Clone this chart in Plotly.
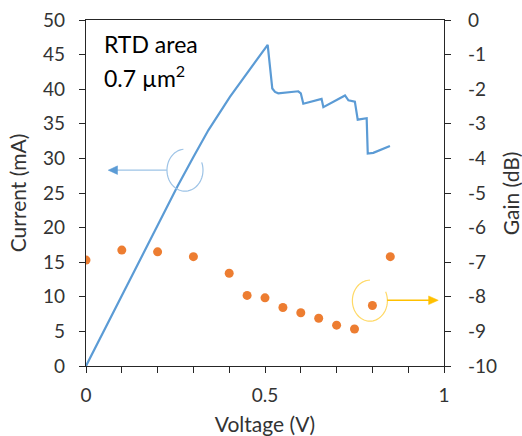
import numpy as np
import plotly.graph_objects as go

# Current (line) data
voltage_iv = [0.0, 0.05, 0.1, 0.179, 0.256, 0.3, 0.342, 0.402, 0.44, 0.472, 0.5075,
              0.5204, 0.528, 0.537, 0.593, 0.600, 0.607, 0.658, 0.663, 0.7235,
              0.733, 0.751, 0.759, 0.784, 0.787, 0.8025, 0.849]
current_ma = [0.0, 5.1, 10.2, 18.2, 26.0, 30.2, 34.1, 38.9, 41.6, 43.7, 46.4,
              40.1, 39.6, 39.4, 39.7, 39.4, 37.9, 38.6, 37.4, 39.1,
              38.4, 38.2, 35.6, 35.8, 30.7, 30.8, 31.8]

# Gain (scatter) data
voltage_gain = [0.0, 0.1, 0.2, 0.3, 0.4, 0.45, 0.5, 0.55, 0.6, 0.65, 0.7, 0.75, 0.8, 0.85]
gain_db = [-6.94, -6.65, -6.70, -6.84, -7.32, -7.96, -8.03, -8.31, -8.46, -8.62, -8.82, -8.93, -8.25, -6.84]

x_tickvals = [0, 0.5, 1.0]
x_ticktext = ["0", "0.5", "1"]
x_minor_tickvals = [0.1, 0.2, 0.3, 0.4, 0.6, 0.7, 0.8, 0.9]
y2_tickvals = [0, -1, -2, -3, -4, -5, -6, -7, -8, -9, -10]
y2_ticktext = ["0", "-1", "-2", "-3", "-4", "-5", "-6", "-7", "-8", "-9", "-10"]

FONT = "Lato, 'Open Sans', sans-serif"
TXT = "#333333"
BLUE_LIGHT = "#9DC3E6"
GOLD = "#FFC000"

fig = go.Figure()
fig.add_trace(go.Scatter(x=voltage_iv, y=current_ma, mode="lines",
                         line=dict(color="#5B9BD5", width=2.2), showlegend=False))
fig.add_trace(go.Scatter(x=voltage_gain, y=gain_db, mode="markers", yaxis="y2",
                         marker=dict(color="#ED7D31", size=9), showlegend=False))


def arc_path(cx, cy, rx, ry, a0, a1, n=60):
    t = np.radians(np.linspace(a0, a1, n))
    xs = cx + rx * np.cos(t)
    ys = cy + ry * np.sin(t)
    return "M " + " L ".join(f"{a:.5f},{b:.5f}" for a, b in zip(xs, ys))


def tri_path(tip_x, tip_y, base_x, half_h):
    return (f"M {tip_x},{tip_y} L {base_x},{tip_y + half_h} "
            f"L {base_x},{tip_y - half_h} Z")


# left (current) indicator: ellipse + arrow pointing to left axis
fig.add_shape(type="path", xref="x", yref="y",
              path=arc_path(0.2765, 28.3, 0.0503, 3.03, 95, 382),
              line=dict(color=BLUE_LIGHT, width=1.2))
fig.add_shape(type="line", xref="x", yref="y", x0=0.226, y0=28.3, x1=0.08, y1=28.3,
              line=dict(color=BLUE_LIGHT, width=1.3))
fig.add_shape(type="path", xref="x", yref="y", path=tri_path(0.062, 28.3, 0.088, 0.62),
              fillcolor="#5B9BD5", line=dict(color="#5B9BD5", width=0.5))

# right (gain) indicator: ellipse + arrow pointing to right axis
fig.add_shape(type="path", xref="x", yref="y",
              path=arc_path(0.793, 9.44, 0.0489, 2.96, 90, 386),
              line=dict(color="#FFD966", width=1.2))
fig.add_shape(type="line", xref="x", yref="y2", x0=0.8416, y0=-8.1, x1=0.965, y1=-8.1,
              line=dict(color=GOLD, width=1.3))
fig.add_shape(type="path", xref="x", yref="y2", path=tri_path(0.984, -8.1, 0.957, 0.125),
              fillcolor=GOLD, line=dict(color=GOLD, width=0.5))

fig.add_annotation(x=0.045, y=46.5, xref="x", yref="y", xanchor="left", yanchor="middle",
                   text="RTD area", showarrow=False, font=dict(size=23, color="#000", family=FONT))
fig.add_annotation(x=0.045, y=41.8, xref="x", yref="y", xanchor="left", yanchor="middle",
                   text="0.7 µm<sup>2</sup>", showarrow=False, font=dict(size=23, color="#000", family=FONT))

# right-axis title placed as a rotated label beside the tick labels
fig.add_annotation(x=1.185, y=0.5, xref="paper", yref="paper", xanchor="center", yanchor="middle",
                   text="Gain (dB)", textangle=-90, showarrow=False,
                   font=dict(size=21, color=TXT, family=FONT))

axis_common = dict(showgrid=False, zeroline=False, showline=True, linecolor="#262626",
                   linewidth=1.3, ticks="outside", ticklen=6, tickcolor="#262626",
                   automargin=False, ticklabeloverflow="allow",
                   tickfont=dict(size=19, color=TXT, family=FONT))

fig.update_layout(
    width=522, height=436,
    margin=dict(l=86, r=78, t=20, b=70),
    paper_bgcolor="white", plot_bgcolor="white",
    font=dict(family=FONT, color=TXT),
    xaxis=dict(range=[0, 1], tickvals=x_tickvals, ticktext=x_ticktext, mirror=True,
               minor=dict(tickvals=x_minor_tickvals, ticks="outside", ticklen=6,
                          tickcolor="#262626"),
               ticklabelstandoff=6,
               title=dict(text="Voltage (V)", font=dict(size=21, color=TXT, family=FONT), standoff=13),
               **axis_common),
    yaxis=dict(range=[0, 50], dtick=5, ticklabelstandoff=10,
               title=dict(text="Current (mA)", font=dict(size=21, color=TXT, family=FONT), standoff=10),
               **axis_common),
    yaxis2=dict(range=[-10, 0], tickvals=y2_tickvals, ticktext=y2_ticktext,
                overlaying="y", side="right", anchor="x",
                ticklabelstandoff=13,
                **axis_common),
)

fig.write_html(
    "out.html",
    config={"displayModeBar": False},
    post_script="document.body.style.margin='0';document.body.style.overflow='hidden';",
)
